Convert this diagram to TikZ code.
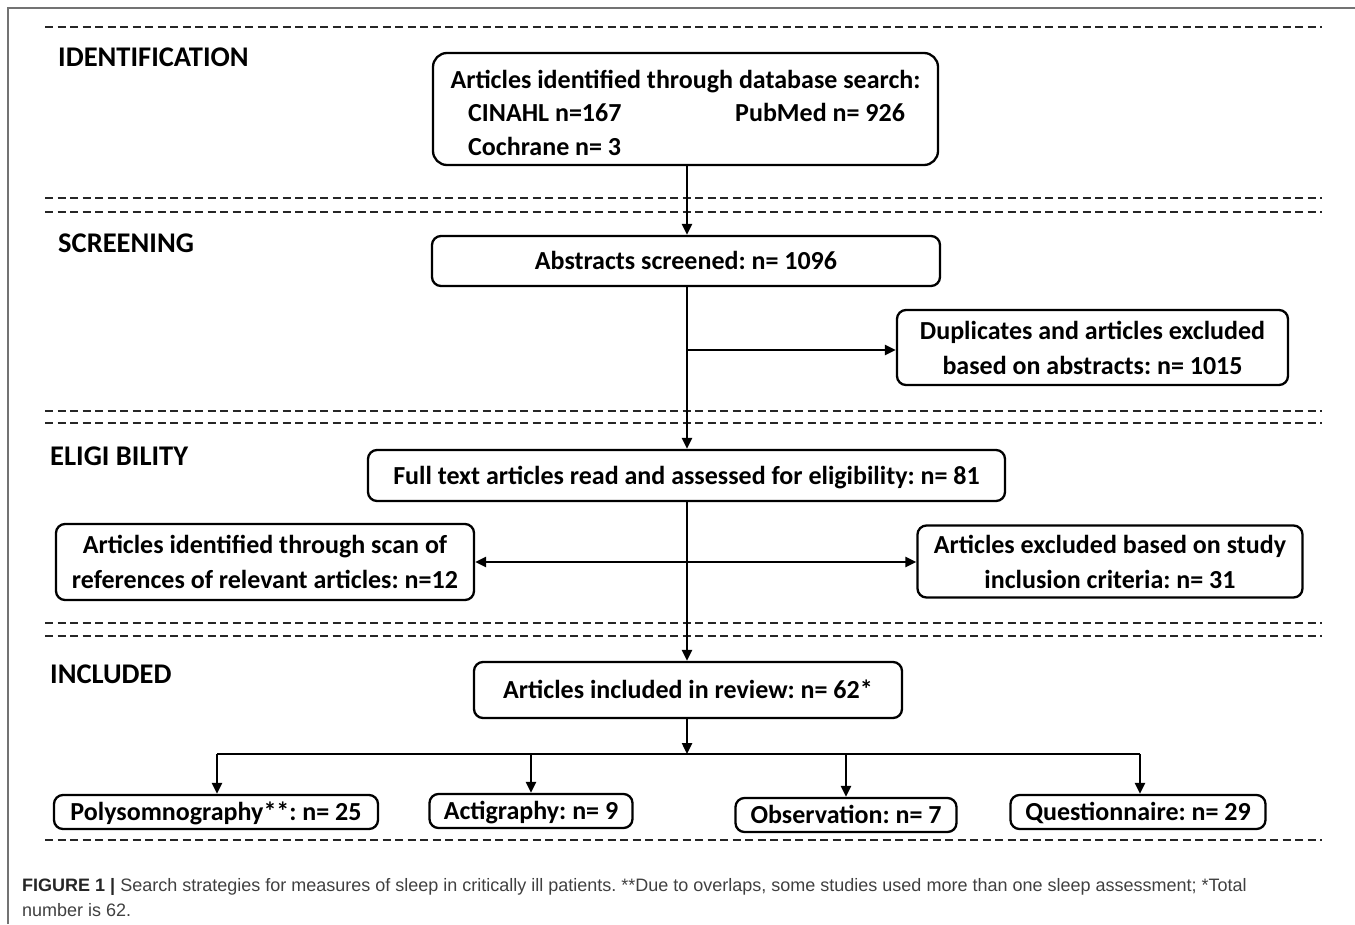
\documentclass[tikz,border=0pt]{standalone}
\usepackage{fontspec}
\setmainfont{Carlito}
\newfontfamily\capfont{Liberation Sans}
\usetikzlibrary{arrows.meta}
\begin{document}
\frenchspacing
\begin{tikzpicture}[x=1pt,y=-1pt,
  box/.style={draw=black, line width=2.3pt, rounded corners=9pt, inner sep=0pt, align=center,
    font=\fontsize{26}{35}\selectfont\bfseries},
  onebox/.style={box, text height=17.5pt, text depth=0pt},
  txt/.style={inner sep=0pt, font=\fontsize{26}{35}\selectfont\bfseries},
  stage/.style={anchor=west, inner sep=0pt, font=\fontsize{28.5}{30}\selectfont\bfseries},
  sep/.style={line width=2pt, dash pattern=on 8pt off 4.5pt, draw=black!85},
  conn/.style={line width=2.4pt},
  arr/.style={conn, -{Triangle[length=11pt,width=10pt]}},
  captxt/.style={anchor=base west, inner sep=0pt, text=black!75, font=\capfont\fontsize{18}{22}\selectfont}
]
\useasboundingbox (0,0) rectangle (1355,924);
% frame
\draw[black!55, line width=2pt] (8,924) -- (8,8) -- (1355,8);
% separators
\draw[sep] (45,27) -- (1322,27);
\draw[sep] (45,198) -- (1322,198);
\draw[sep] (45,212) -- (1322,212);
\draw[sep] (45,411) -- (1322,411);
\draw[sep] (45,423) -- (1322,423);
\draw[sep] (45,623) -- (1322,623);
\draw[sep] (45,636) -- (1322,636);
\draw[sep] (45,840) -- (1322,840);
% stage labels
\node[stage] (sid) at (58,57.5) {IDENTIFICATION};
\node[stage] (ssc) at (58,243) {SCREENING};
\node[stage] (sel) at (50,456) {ELIGI BILITY};
\node[stage] (sin) at (50,674) {INCLUDED};
% boxes
\node[box, rounded corners=14pt, minimum width=505pt, minimum height=112pt] (b1) at (685.5,109) {};
\node[txt, anchor=base] (t1a) at (685.5,88.5) {Articles identified through database search:};
\node[txt, anchor=base west] (t1b) at (468,121.5) {CINAHL n=167};
\node[txt, anchor=base west] (t1c) at (735,121.5) {PubMed n= 926};
\node[txt, anchor=base west] (t1d) at (468,155.5) {Cochrane n= 3};
\node[onebox, minimum width=508pt, minimum height=50pt] (b2) at (686,261) {Abstracts screened: n= 1096};
\node[box, minimum width=391pt, minimum height=75pt] (b3) at (1092.5,347.5) {Duplicates and articles excluded\\based on abstracts: n= 1015};
\node[onebox, minimum width=637pt, minimum height=51pt] (b4) at (686.5,475.5) {Full text articles read and assessed for eligibility: n= 81};
\node[box, minimum width=418pt, minimum height=76pt] (b5) at (265,562) {Articles identified through scan of\\references of relevant articles: n=12};
\node[box, minimum width=385pt, minimum height=72pt] (b6) at (1110,561.5) {Articles excluded based on study\\inclusion criteria: n= 31};
\node[onebox, minimum width=428pt, minimum height=56pt] (b7) at (688,690) {Articles included in review: n= 62*};
\node[onebox, minimum width=324pt, minimum height=34pt] (c1) at (216,812) {Polysomnography**: n= 25};
\node[onebox, minimum width=203pt, minimum height=34pt] (c2) at (531,811) {Actigraphy: n= 9};
\node[onebox, minimum width=221pt, minimum height=34pt] (c3) at (846,815) {Observation: n= 7};
\node[onebox, minimum width=255pt, minimum height=34pt] (c4) at (1138,812) {Questionnaire: n= 29};
% connectors
\coordinate (sp) at (687,350);
\coordinate (ey) at (687,562);
\coordinate (br) at (687,754);
\coordinate (bl) at (217,754);
\coordinate (brr) at (1140,754);
\draw[arr] (b1.south -| sp) -- (b2.north -| sp);
\draw[arr] (b2.south -| sp) -- (b4.north -| sp);
\draw[arr] (sp) -- (b3.west |- sp);
\draw[arr] (b4.south -| sp) -- (b7.north -| sp);
\draw[arr] (ey) -- (b5.east |- ey);
\draw[arr] (ey) -- (b6.west |- ey);
\draw[arr] (b7.south -| br) -- (br);
\draw[conn] (bl) -- (brr);
\draw[arr] (bl) -- (c1.north -| bl);
\draw[arr] (c2.north |- bl) -- (c2.north);
\draw[arr] (c3.north |- bl) -- (c3.north);
\draw[arr] (brr) -- (c4.north -| brr);
% caption
\node[captxt] (cap1) at (22,891) {{\color{black!85}\textbf{FIGURE 1 |}} Search strategies for measures of sleep in critically ill patients. **Due to overlaps, some studies used more than one sleep assessment; *Total};
\node[captxt] (cap2) at (22,916) {number is 62.};
\end{tikzpicture}
\end{document}
